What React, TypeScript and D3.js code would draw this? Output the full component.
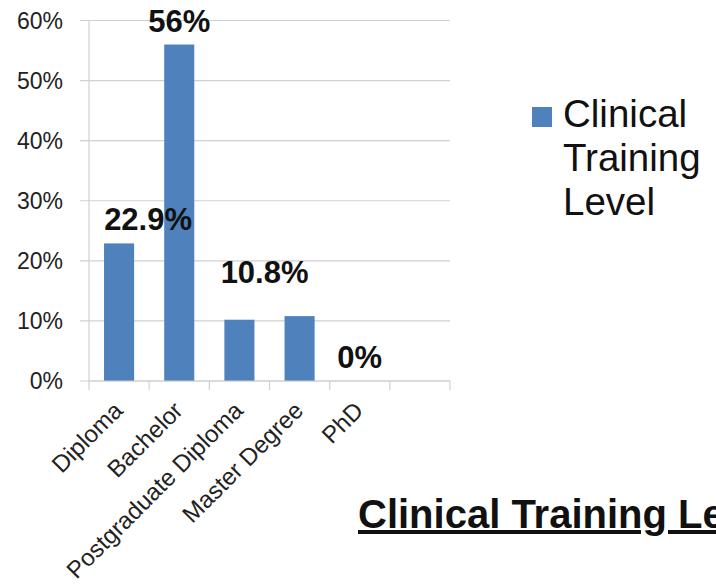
import React from "react";
import * as d3 from "d3";

const categories = ["Diploma", "Bachelor", "Postgraduate Diploma", "Master Degree", "PhD", ""];
const values: (number | null)[] = [22.9, 56, 10.2, 10.8, 0, null];
const labelTexts = ["22.9%", "56%", "", "10.8%", "0%", ""];
const yTicks = [0, 10, 20, 30, 40, 50, 60];
const seriesName = ["Clinical", "Training", "Level"];
const title = "Clinical Training Level";

// label nudges (layout, not data)
const labelShiftX = [29, 0, 0, -35, 0, 0];
const labelShiftY = [0, 0, 0, 20, 0, 0];

const W = 716;
const H = 587;
const FONT = "'Liberation Sans', Arial, sans-serif";
const BAR = "#4f81bd";
const GRID = "#d0d0d0";

export default function App() {
  const left = 89;
  const right = 450;
  const top = 20.5;
  const bottom = 381;

  const keys = categories.map((c, i) => i + ":" + c);
  const x = d3.scaleBand<string>().domain(keys).range([left, right]).paddingInner(0.5).paddingOuter(0.25);
  const y = d3.scaleLinear().domain([0, 60]).range([bottom, top]);
  const step = x.step();
  const tickXs = d3.range(categories.length + 1).map((i) => left + i * step);

  return (
    <svg width={W} height={H} style={{ position: "absolute", left: 0, top: 0, background: "#fff" }} fontFamily={FONT}>
      <rect width={W} height={H} fill="#fff" />
      {yTicks.map((t) => (
        <g key={t}>
          <line x1={left - 9} x2={right} y1={y(t)} y2={y(t)} stroke={GRID} strokeWidth={1.2} />
          <text x={63} y={y(t)} dy="0.36em" textAnchor="end" fontSize={23} fill="#222">
            {t}%
          </text>
        </g>
      ))}
      <line x1={left} x2={left} y1={top} y2={bottom} stroke={GRID} strokeWidth={1.2} />
      {values.map((v, i) =>
        v === null ? null : (
          <rect key={i} x={x(keys[i])!} width={x.bandwidth()} y={y(v)} height={bottom - y(v)} fill={BAR} />
        )
      )}
      <line x1={left} x2={right} y1={bottom} y2={bottom} stroke={GRID} strokeWidth={1.2} />
      {tickXs.map((tx, i) => (
        <line key={i} x1={tx} x2={tx} y1={bottom} y2={bottom + 9} stroke={GRID} strokeWidth={1.2} />
      ))}
      {categories.map((c, i) => {
        const cx = x(keys[i])! + x.bandwidth() / 2 + 5;
        const cy = 412;
        return (
          <text key={i} x={cx} y={cy} textAnchor="end" fontSize={24} fill="#222" transform={`rotate(-45 ${cx} ${cy})`}>
            {c}
          </text>
        );
      })}
      {values.map((v, i) =>
        v === null || !labelTexts[i] ? null : (
          <text
            key={i}
            x={x(keys[i])! + x.bandwidth() / 2 + labelShiftX[i]}
            y={y(v) - 13 - labelShiftY[i]}
            textAnchor="middle"
            fontSize={31}
            fontWeight="bold"
            fill="#111"
          >
            {labelTexts[i]}
          </text>
        )
      )}
      <rect x={532} y={107} width={20} height={20} fill={BAR} />
      {seriesName.map((s, i) => (
        <text key={i} x={563} y={127 + i * 44} fontSize={38.5} fill="#111">
          {s}
        </text>
      ))}
      <text x={358} y={528} fontSize={40} fontWeight="bold" fill="#111" textDecoration="underline">
        {title}
      </text>
    </svg>
  );
}
